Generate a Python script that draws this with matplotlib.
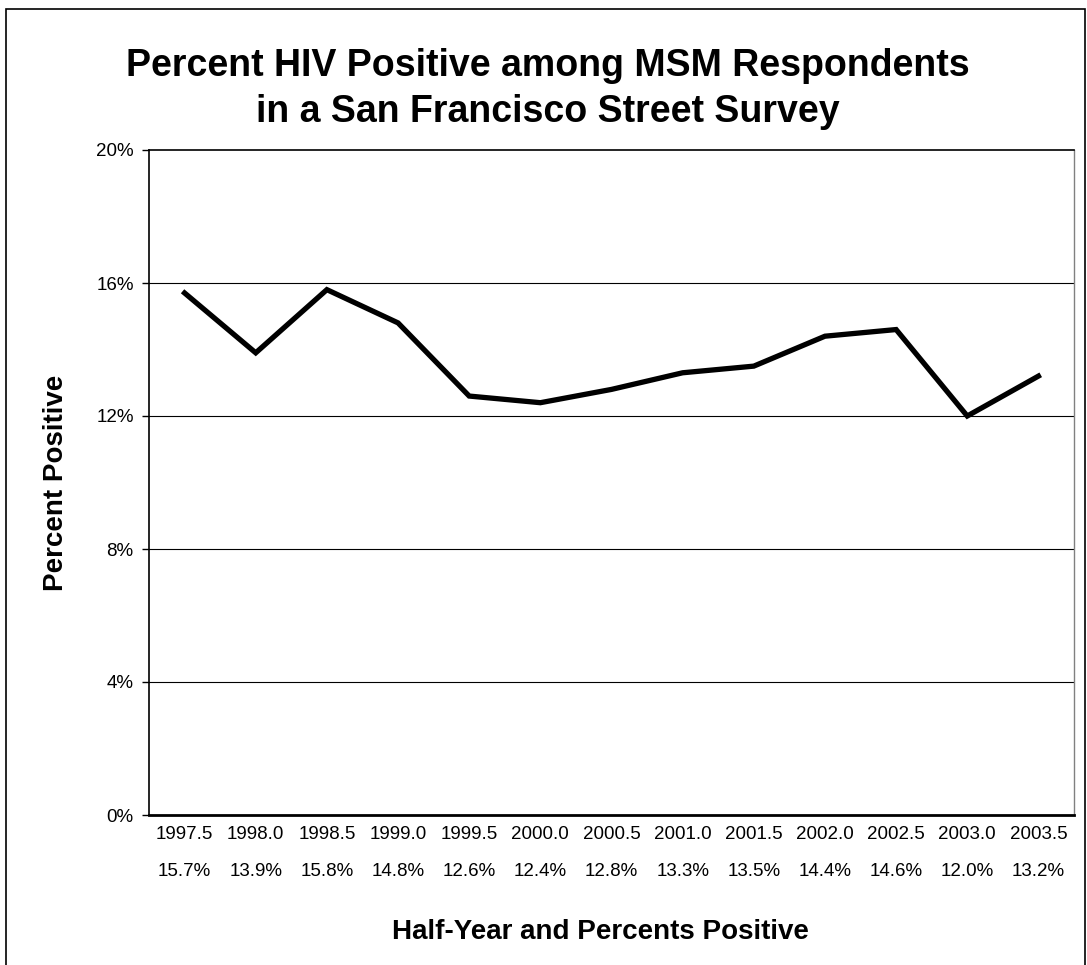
import matplotlib.pyplot as plt
from matplotlib.patches import Rectangle
from matplotlib.transforms import blended_transform_factory

plt.rcParams["font.family"] = ["Liberation Sans", "DejaVu Sans"]

# Datos del gráfico
semestres = ["1997.5", "1998.0", "1998.5", "1999.0", "1999.5", "2000.0", "2000.5",
             "2001.0", "2001.5", "2002.0", "2002.5", "2003.0", "2003.5"]
porcentajes = [15.7, 13.9, 15.8, 14.8, 12.6, 12.4, 12.8, 13.3, 13.5, 14.4, 14.6, 12.0, 13.2]
ticks_y = [0, 4, 8, 12, 16, 20]

W, H = 1087, 965
fig = plt.figure(figsize=(W / 100, H / 100), dpi=100)

# Área del gráfico en píxeles
izq, der, arriba, abajo = 149, 1074, 150, 815
ax = fig.add_axes([izq / W, 1 - abajo / H, (der - izq) / W, (abajo - arriba) / H])

x = list(range(len(semestres)))
ax.plot(x, porcentajes, color="black", linewidth=3.8, solid_joinstyle="miter")

ax.set_xlim(-0.5, len(semestres) - 0.5)
ax.set_ylim(0, 20)
ax.set_yticks(ticks_y)
ax.set_yticklabels([f"{t}%" for t in ticks_y], fontsize=13.5)
ax.tick_params(axis="y", direction="out", length=5, width=1, pad=6)
ax.set_xticks(x)
ax.set_xticklabels(semestres, fontsize=13.5)
ax.tick_params(axis="x", length=0, pad=8)

# Fila de porcentajes debajo de los años
trans = blended_transform_factory(ax.transData, fig.transFigure)
for xi, p in zip(x, porcentajes):
    ax.text(xi, 1 - 872 / H, f"{p:.1f}%", transform=trans, ha="center", va="center",
            fontsize=13.5, clip_on=False)

for t in ticks_y[1:-1]:
    ax.axhline(t, color="black", linewidth=0.8, zorder=0)

ax.spines["left"].set_linewidth(1.2)
ax.spines["bottom"].set_linewidth(2)
ax.spines["top"].set_linewidth(1.2)
ax.spines["right"].set_color("#808080")
ax.spines["right"].set_linewidth(1)

fig.text(56 / W, 1 - 483 / H, "Percent Positive", rotation=90,
         ha="center", va="center", fontsize=20, fontweight="bold")
fig.text(600 / W, 1 - 932 / H, "Half-Year and Percents Positive",
         ha="center", va="center", fontsize=20, fontweight="bold")

fig.text(548 / W, 1 - 89 / H,
         "Percent HIV Positive among MSM Respondents\nin a San Francisco Street Survey",
         ha="center", va="center", fontsize=27, fontweight="bold", linespacing=1.38)

# Borde exterior de la figura
fig.patches.append(Rectangle((6 / W, -0.02), (W - 8) / W, 1 - 9 / H + 0.02,
                             transform=fig.transFigure, fill=False,
                             edgecolor="black", linewidth=1.2))

fig.savefig("out.png", dpi=100)
